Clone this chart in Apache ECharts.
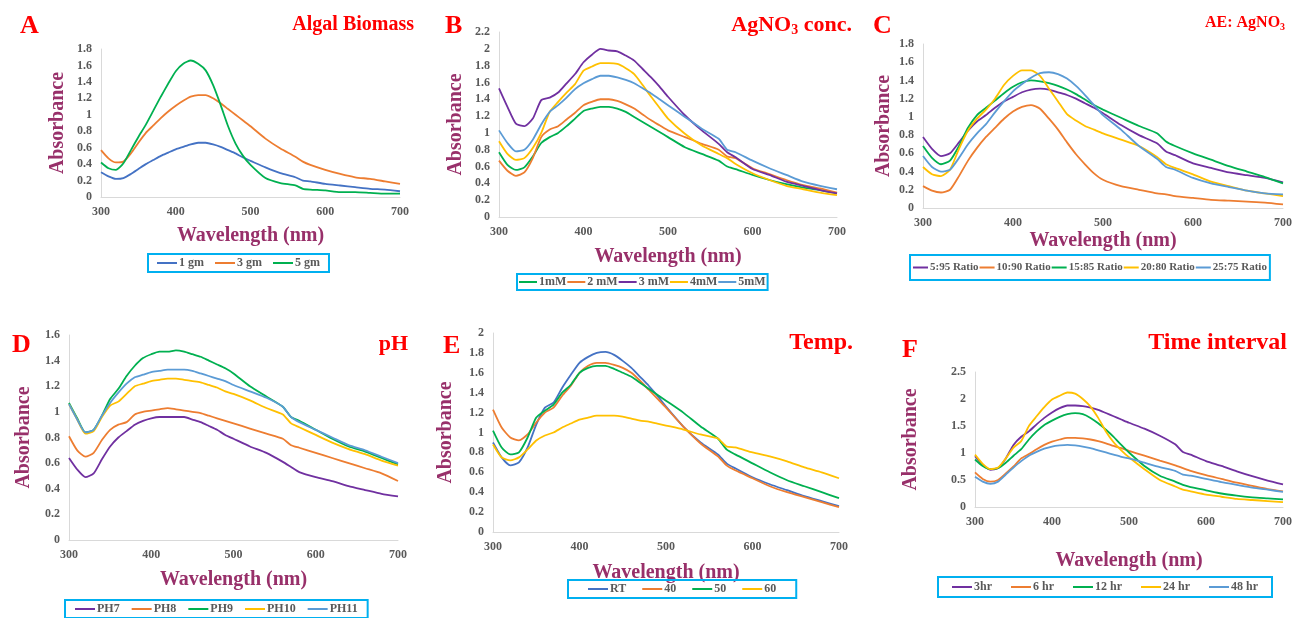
<!DOCTYPE html>
<html>
<head>
<meta charset="utf-8">
<script src="https://cdn.jsdelivr.net/npm/echarts@6/dist/echarts.min.js"></script>
<style>
  html, body { margin: 0; padding: 0; background: #fff; }
  #main { width: 1295px; height: 618px; }
</style>
</head>
<body>
<div id="main"></div>
<script>
// wavelength (nm) shared by all panels
const WL = [300,310,320,330,340,350,360,370,380,390,400,410,420,430,440,450,460,470,480,490,500,520,540,560,570,580,600,620,640,660,680,700];

// A - algal biomass
const A_names = ['1 gm', '3 gm', '5 gm'];
const A_1gm = [0.30,0.25,0.22,0.23,0.28,0.34,0.40,0.45,0.50,0.54,0.58,0.61,0.64,0.66,0.66,0.64,0.61,0.57,0.53,0.48,0.44,0.36,0.29,0.24,0.20,0.19,0.16,0.14,0.12,0.10,0.09,0.07];
const A_3gm = [0.57,0.47,0.42,0.43,0.53,0.66,0.78,0.87,0.96,1.04,1.11,1.17,1.22,1.24,1.24,1.20,1.14,1.07,1.00,0.93,0.86,0.71,0.59,0.49,0.43,0.39,0.33,0.28,0.24,0.22,0.19,0.16];
const A_5gm = [0.42,0.35,0.33,0.41,0.57,0.73,0.88,1.05,1.22,1.38,1.53,1.62,1.66,1.62,1.54,1.36,1.12,0.86,0.65,0.50,0.39,0.23,0.17,0.14,0.10,0.09,0.08,0.06,0.06,0.05,0.04,0.04];

// B - AgNO3 concentration
const B_names = ['1mM', '2 mM', '3 mM', '4mM', '5mM'];
const B_1mM = [0.77,0.62,0.56,0.59,0.72,0.88,0.95,1.00,1.08,1.17,1.26,1.29,1.31,1.31,1.29,1.25,1.19,1.13,1.07,1.01,0.95,0.83,0.75,0.67,0.60,0.57,0.50,0.44,0.39,0.35,0.32,0.28];
const B_2mM = [0.67,0.55,0.49,0.53,0.70,0.95,1.04,1.08,1.16,1.24,1.33,1.37,1.40,1.40,1.38,1.34,1.29,1.22,1.15,1.09,1.03,0.95,0.87,0.80,0.72,0.70,0.58,0.51,0.44,0.38,0.34,0.29];
const B_3mM = [1.53,1.31,1.11,1.08,1.17,1.39,1.42,1.48,1.59,1.70,1.84,1.93,2.00,1.98,1.97,1.92,1.86,1.76,1.66,1.55,1.43,1.21,1.03,0.87,0.77,0.71,0.57,0.50,0.42,0.37,0.32,0.28];
const B_4mM = [0.90,0.75,0.68,0.70,0.82,1.00,1.25,1.37,1.48,1.58,1.74,1.79,1.83,1.83,1.82,1.77,1.70,1.57,1.43,1.30,1.17,0.99,0.85,0.75,0.70,0.63,0.52,0.44,0.37,0.33,0.29,0.26];
const B_5mM = [1.03,0.88,0.78,0.80,0.92,1.10,1.25,1.33,1.42,1.52,1.59,1.64,1.68,1.68,1.66,1.63,1.59,1.53,1.47,1.40,1.33,1.19,1.05,0.93,0.80,0.77,0.67,0.58,0.50,0.42,0.37,0.33];

// C - AE : AgNO3 ratio
const C_names = ['5:95 Ratio', '10:90 Ratio', '15:85 Ratio', '20:80 Ratio', '25:75 Ratio'];
const C_5_95 = [0.78,0.65,0.57,0.60,0.72,0.85,0.95,1.02,1.10,1.17,1.22,1.27,1.30,1.31,1.30,1.27,1.24,1.20,1.15,1.10,1.04,0.91,0.80,0.71,0.62,0.58,0.49,0.44,0.39,0.36,0.33,0.28];
const C_10_90 = [0.24,0.19,0.17,0.20,0.35,0.52,0.66,0.78,0.88,0.98,1.06,1.11,1.13,1.09,0.98,0.86,0.72,0.59,0.48,0.38,0.31,0.24,0.20,0.16,0.15,0.13,0.11,0.09,0.08,0.07,0.06,0.04];
const C_15_85 = [0.68,0.55,0.48,0.52,0.68,0.88,1.02,1.10,1.18,1.26,1.33,1.38,1.40,1.39,1.37,1.34,1.30,1.25,1.19,1.13,1.08,0.99,0.90,0.82,0.73,0.68,0.60,0.53,0.46,0.40,0.34,0.27];
const C_20_80 = [0.45,0.37,0.35,0.42,0.65,0.85,0.98,1.08,1.20,1.35,1.45,1.51,1.51,1.45,1.31,1.17,1.03,0.96,0.90,0.86,0.82,0.75,0.68,0.56,0.48,0.44,0.37,0.29,0.24,0.19,0.16,0.13];
const C_25_75 = [0.57,0.45,0.40,0.42,0.55,0.70,0.82,0.92,1.05,1.17,1.28,1.36,1.43,1.48,1.49,1.47,1.42,1.34,1.24,1.13,1.02,0.86,0.68,0.54,0.45,0.42,0.33,0.27,0.23,0.19,0.16,0.15];

// D - pH
const D_names = ['PH7', 'PH8', 'PH9', 'PH10', 'PH11'];
const D_ph7 = [0.64,0.55,0.49,0.52,0.63,0.73,0.80,0.85,0.90,0.93,0.95,0.96,0.96,0.96,0.96,0.94,0.92,0.89,0.86,0.82,0.79,0.73,0.68,0.61,0.57,0.53,0.49,0.46,0.42,0.39,0.36,0.34];
const D_ph8 = [0.81,0.70,0.65,0.68,0.78,0.86,0.90,0.92,0.98,1.00,1.01,1.02,1.03,1.02,1.01,1.00,0.99,0.97,0.95,0.93,0.91,0.87,0.83,0.79,0.74,0.72,0.68,0.64,0.60,0.56,0.52,0.46];
const D_ph9 = [1.07,0.95,0.84,0.86,0.97,1.10,1.18,1.28,1.36,1.42,1.45,1.47,1.47,1.48,1.47,1.45,1.43,1.40,1.37,1.34,1.30,1.20,1.12,1.04,0.96,0.93,0.86,0.79,0.73,0.69,0.64,0.59];
const D_ph10 = [1.06,0.94,0.83,0.85,0.96,1.05,1.08,1.14,1.20,1.22,1.24,1.25,1.26,1.26,1.25,1.24,1.23,1.21,1.19,1.16,1.14,1.09,1.03,0.98,0.91,0.88,0.82,0.76,0.71,0.67,0.62,0.58];
const D_ph11 = [1.06,0.94,0.84,0.86,0.97,1.07,1.15,1.22,1.27,1.29,1.31,1.32,1.33,1.33,1.33,1.32,1.30,1.28,1.26,1.24,1.21,1.16,1.11,1.04,0.96,0.92,0.86,0.80,0.74,0.70,0.65,0.60];

// E - temperature
const E_names = ['RT', '40', '50', '60'];
const E_rt = [0.90,0.75,0.67,0.70,0.85,1.08,1.25,1.30,1.45,1.58,1.70,1.76,1.80,1.81,1.78,1.72,1.65,1.56,1.47,1.37,1.26,1.06,0.90,0.78,0.69,0.64,0.55,0.48,0.42,0.36,0.31,0.26];
const E_40 = [1.23,1.05,0.95,0.92,0.98,1.10,1.20,1.25,1.37,1.47,1.60,1.67,1.70,1.70,1.68,1.65,1.60,1.52,1.43,1.34,1.25,1.06,0.89,0.76,0.67,0.62,0.54,0.46,0.40,0.35,0.30,0.25];
const E_50 = [1.02,0.85,0.78,0.80,0.95,1.15,1.22,1.28,1.40,1.48,1.60,1.65,1.67,1.67,1.64,1.60,1.56,1.50,1.44,1.38,1.32,1.20,1.06,0.94,0.83,0.78,0.69,0.60,0.52,0.46,0.40,0.34];
const E_60 = [0.88,0.75,0.72,0.75,0.83,0.92,0.97,1.00,1.05,1.09,1.13,1.15,1.17,1.17,1.17,1.16,1.14,1.12,1.11,1.09,1.07,1.03,0.98,0.94,0.86,0.85,0.80,0.76,0.71,0.65,0.60,0.54];

// F - time interval
const F_names = ['3hr', '6 hr', '12 hr', '24 hr', '48 hr'];
const F_3hr = [0.94,0.78,0.69,0.72,0.90,1.15,1.30,1.40,1.53,1.65,1.75,1.83,1.88,1.88,1.87,1.84,1.80,1.74,1.68,1.62,1.56,1.45,1.32,1.16,1.02,0.97,0.85,0.76,0.66,0.57,0.49,0.42];
const F_6hr = [0.64,0.52,0.47,0.50,0.62,0.75,0.90,0.98,1.07,1.15,1.21,1.25,1.28,1.28,1.27,1.25,1.22,1.18,1.13,1.09,1.04,0.95,0.86,0.77,0.72,0.67,0.59,0.52,0.45,0.39,0.33,0.29];
const F_12hr = [0.88,0.76,0.70,0.72,0.82,0.95,1.07,1.25,1.40,1.52,1.60,1.67,1.72,1.74,1.72,1.65,1.55,1.43,1.30,1.15,1.01,0.76,0.58,0.47,0.41,0.37,0.31,0.25,0.21,0.18,0.16,0.14];
const F_24hr = [0.97,0.80,0.70,0.73,0.90,1.10,1.22,1.50,1.68,1.85,1.99,2.06,2.12,2.10,2.00,1.86,1.65,1.40,1.20,1.05,0.92,0.70,0.50,0.38,0.32,0.29,0.23,0.19,0.15,0.13,0.11,0.09];
const F_48hr = [0.56,0.47,0.43,0.47,0.60,0.73,0.85,0.95,1.02,1.08,1.12,1.14,1.15,1.14,1.12,1.09,1.05,1.01,0.97,0.93,0.90,0.82,0.74,0.67,0.60,0.58,0.52,0.46,0.41,0.36,0.32,0.28];

const BLUE = '#4472C4', ORANGE = '#ED7D31', GREEN = '#00B050', PURPLE = '#7030A0', YELLOW = '#FFC000', LBLUE = '#5B9BD5';
const SERIF = 'Liberation Serif';
const TICK = '#595959';
const NAMECOL = '#98306A';

const panels = [
  { grid: { left: 101, top: 49, width: 299, height: 148 }, yMax: 1.8, yInt: 0.2, yGap: 33, xGap: 29,
    legend: { left: 148, top: 254, itemGap: 11, padding: [3, 9] },
    names: A_names, data: [A_1gm, A_3gm, A_5gm], colors: [BLUE, ORANGE, GREEN] },
  { grid: { left: 499, top: 32, width: 338, height: 185 }, yMax: 2.2, yInt: 0.2, yGap: 33, xGap: 30,
    legend: { left: 517, top: 274, itemGap: 1, padding: [2, 2], itemWidth: 18 },
    names: B_names, data: [B_1mM, B_2mM, B_3mM, B_4mM, B_5mM], colors: [GREEN, ORANGE, PURPLE, YELLOW, LBLUE] },
  { grid: { left: 923, top: 44, width: 364, height: 164 }, yMax: 1.8, yInt: 0.2, yGap: 29, xGap: 23,
    legend: { left: 910, top: 255, itemGap: 1, padding: [7, 3], fontSize: 11, itemWidth: 15 },
    names: C_names, data: [C_5_95, C_10_90, C_15_85, C_20_80, C_25_75], colors: [PURPLE, ORANGE, GREEN, YELLOW, LBLUE] },
  { grid: { left: 69, top: 335, width: 329, height: 205 }, yMax: 1.6, yInt: 0.2, yGap: 35, xGap: 30,
    legend: { left: 65, top: 600, itemGap: 12, padding: [3, 10] },
    names: D_names, data: [D_ph7, D_ph8, D_ph9, D_ph10, D_ph11], colors: [PURPLE, ORANGE, GREEN, YELLOW, LBLUE] },
  { grid: { left: 493, top: 333, width: 346, height: 199 }, yMax: 2, yInt: 0.2, yGap: 37, xGap: 31,
    legend: { left: 568, top: 580, itemGap: 16, padding: [3, 20] },
    names: E_names, data: [E_rt, E_40, E_50, E_60], colors: [BLUE, ORANGE, GREEN, YELLOW] },
  { grid: { left: 975, top: 372, width: 308, height: 135 }, yMax: 2.5, yInt: 0.5, yGap: 54, xGap: 44,
    legend: { left: 938, top: 577, itemGap: 19, padding: [4, 14] },
    names: F_names, data: [F_3hr, F_6hr, F_12hr, F_24hr, F_48hr], colors: [PURPLE, ORANGE, GREEN, YELLOW, LBLUE] }
];

const labelStyle = { fontFamily: SERIF, fontWeight: 'bold', fontSize: 12, color: TICK };
const nameStyle = { fontFamily: SERIF, fontWeight: 'bold', fontSize: 20, color: NAMECOL };

const option = {
  animation: false,
  backgroundColor: '#fff',
  grid: panels.map(p => p.grid),
  xAxis: panels.map((p, i) => ({
    type: 'value', gridIndex: i, min: 300, max: 700, interval: 100,
    name: 'Wavelength (nm)', nameLocation: 'middle', nameGap: p.xGap, nameTextStyle: nameStyle,
    axisLine: { show: true, lineStyle: { color: '#D9D9D9', width: 1 } },
    axisTick: { show: false }, splitLine: { show: false },
    axisLabel: Object.assign({ margin: 9 }, labelStyle)
  })),
  yAxis: panels.map((p, i) => ({
    type: 'value', gridIndex: i, min: 0, max: p.yMax, interval: p.yInt,
    name: 'Absorbance', nameLocation: 'middle', nameGap: p.yGap, nameTextStyle: nameStyle,
    axisLine: { show: true, lineStyle: { color: '#D9D9D9', width: 1 } },
    axisTick: { show: false }, splitLine: { show: false },
    axisLabel: Object.assign({ margin: 9 }, labelStyle)
  })),
  legend: panels.map(p => ({
    left: p.legend.left, top: p.legend.top, orient: 'horizontal',
    data: p.names, icon: 'rect', itemWidth: p.legend.itemWidth || 20, itemHeight: 2,
    itemGap: p.legend.itemGap, padding: p.legend.padding,
    borderColor: '#00B0F0', borderWidth: 2, borderRadius: 0,
    textStyle: { fontFamily: SERIF, fontWeight: 'bold', fontSize: p.legend.fontSize || 12, color: TICK, padding: [0, 0, 0, -3] }
  })),
  series: [],
  graphic: []
};

panels.forEach((p, i) => {
  p.names.forEach((n, k) => {
    option.series.push({
      type: 'line', name: n, xAxisIndex: i, yAxisIndex: i,
      data: WL.map((w, j) => [w, p.data[k][j]]),
      showSymbol: false, smooth: 0.2,
      lineStyle: { width: 1.8, color: p.colors[k] },
      itemStyle: { color: p.colors[k] }
    });
  });
});

const RED = '#FF0000';
function txt(x, y, text, size, align, rich) {
  return {
    type: 'text', x: x, y: y,
    style: {
      text: text, fill: RED, textAlign: align || 'left', textVerticalAlign: 'top',
      font: 'bold ' + size + 'px ' + SERIF, rich: rich
    }
  };
}
const subRich = (size) => ({
  a: { fontFamily: SERIF, fontWeight: 'bold', fontSize: size, fill: RED, verticalAlign: 'bottom' },
  s: { fontFamily: SERIF, fontWeight: 'bold', fontSize: Math.round(size * 0.65), fill: RED, verticalAlign: 'bottom', padding: [0, 0, -1, 0] }
});

option.graphic = [
  txt(20, 13, 'A', 26),
  txt(414, 15, 'Algal Biomass', 20, 'right'),
  txt(445, 13, 'B', 26),
  txt(852, 14, '{a|AgNO}{s|3}{a| conc.}', 22, 'right', subRich(22)),
  txt(873, 13, 'C', 26),
  txt(1205, 15, '{a|AE: AgNO}{s|3}', 16, 'left', subRich(16)),
  txt(12, 332, 'D', 26),
  txt(408, 333, 'pH', 22, 'right'),
  txt(443, 333, 'E', 26),
  txt(853, 331, 'Temp.', 24, 'right'),
  txt(902, 337, 'F', 26),
  txt(1287, 331, 'Time interval', 24, 'right')
];

const myChart = echarts.init(document.getElementById('main'));
myChart.setOption(option);
window.addEventListener('resize', () => myChart.resize());
</script>
</body>
</html>
